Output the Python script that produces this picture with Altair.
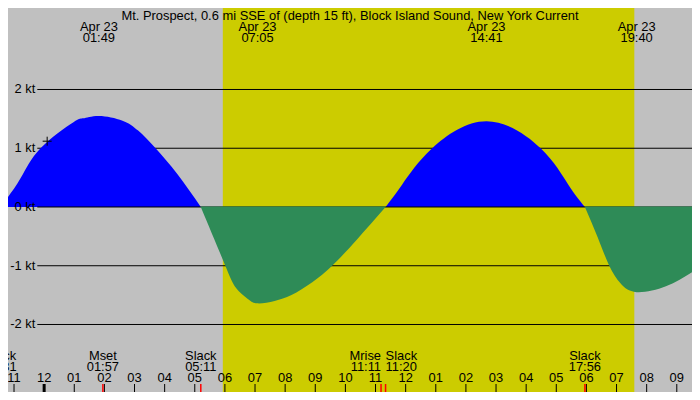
import altair as alt
import pandas as pd

# ---------------- data ----------------
TITLE = "Mt. Prospect, 0.6 mi SSE of (depth 15 ft), Block Island Sound, New York Current"

# current curve (hours after midnight Apr 23, knots), one list per half-cycle
flood1_h = [-1.45, -1.20, -0.77, -0.12, 0.96, 1.30, 1.817, 2.60, 3.12, 3.70, 4.42, 5.20]
flood1_v = [0.0, 0.17, 0.50, 1.0, 1.44, 1.51, 1.55, 1.47, 1.30, 1.0, 0.56, 0.0]
ebb1_h = [5.20, 5.99, 6.37, 6.75, 7.083, 7.65, 8.21, 8.90, 9.56, 10.37, 11.333]
ebb1_v = [0.0, -0.97, -1.38, -1.56, -1.64, -1.60, -1.50, -1.28, -1.00, -0.56, 0.0]
flood2_h = [11.333, 11.88, 12.88, 14.683, 16.48, 17.40, 17.95]
flood2_v = [0.0, 0.38, 1.0, 1.46, 1.0, 0.38, 0.0]
ebb2_h = [17.95, 18.37, 18.75, 19.13, 19.667, 20.64, 21.505]
ebb2_v = [0.0, -0.51, -0.99, -1.30, -1.45, -1.35, -1.11]

# daylight
sunrise_h = 5.93
sunset_h = 19.59

# y gridlines / labels
grid_v = [2, 1, 0, -1, -2]
grid_labels = ["2 kt", "1 kt", "0 kt", "-1 kt", "-2 kt"]

# max / min labels at the top
peak_h = [1.817, 7.083, 14.683, 19.667]
peak_date = ["Apr 23", "Apr 23", "Apr 23", "Apr 23"]
peak_time = ["01:49", "07:05", "14:41", "19:40"]

# events at the bottom
event_h = [-1.45, 1.95, 5.20, 11.183, 11.333, 17.95]
event_name = ["Slack", "Mset", "Slack", "Mrise", "Slack", "Slack"]
event_time = ["22:31", "01:57", "05:11", "11:11", "11:20", "17:56"]
event_align = ["center", "center", "center", "right", "left", "center"]

# hour ticks
hour_h = list(range(-1, 22))
hour_labels = ["11", "12", "01", "02", "03", "04", "05", "06", "07", "08", "09", "10",
               "11", "12", "01", "02", "03", "04", "05", "06", "07", "08", "09"]

# current-time marker
now_h = [0.1]
now_v = [1.12]

# ---------------- chart ----------------
W, H = 684, 384
FONT = "Liberation Sans"
FS = 12.9
xs = alt.Scale(domain=[-1.2, 21.505], nice=False, zero=False)
ys = alt.Scale(domain=[-3.149, 3.387], nice=False, zero=False)

rows = []
for seg, (hh, vv, ph) in enumerate([(flood1_h, flood1_v, "flood"), (ebb1_h, ebb1_v, "ebb"),
                                     (flood2_h, flood2_v, "flood"), (ebb2_h, ebb2_v, "ebb")]):
    for a, b in zip(hh, vv):
        rows.append({"h": a, "v": b, "seg": seg, "phase": ph})
curve = pd.DataFrame(rows)

X = lambda f: alt.X(f, scale=xs, axis=None)
Y = lambda f: alt.Y(f, scale=ys, axis=None)

day = alt.Chart(pd.DataFrame({"a": [sunrise_h], "b": [sunset_h]})).mark_rect(
    color="#cccc00").encode(x=X("a:Q"), x2="b:Q", y=alt.value(0), y2=alt.value(H))

grid_df = pd.DataFrame({"v": grid_v, "label": grid_labels})
grid = alt.Chart(grid_df).transform_filter("datum.v != 0").mark_rule(
    color="black", strokeWidth=1).encode(y=Y("v:Q"), x=alt.value(29.3), x2=alt.value(W))
zero = alt.Chart(grid_df).transform_filter("datum.v == 0").mark_rule(
    color="black", strokeWidth=1).encode(y=Y("v:Q"), x=alt.value(29.3), x2=alt.value(W))
ylab = alt.Chart(grid_df).mark_text(align="right", baseline="middle", font=FONT,
                                    fontSize=FS, color="black").encode(
    y=Y("v:Q"), x=alt.value(27.4), text="label:N")

flood = alt.Chart(curve).transform_filter("datum.phase == 'flood'").mark_area(
    color="#0000ff", interpolate="natural", clip=True).encode(
    x=X("h:Q"), y=Y("v:Q"), y2=alt.datum(0), detail="seg:N")
ebb = alt.Chart(curve).transform_filter("datum.phase == 'ebb'").mark_area(
    color="#2e8b57", interpolate="natural", clip=True).encode(
    x=X("h:Q"), y=Y("v:Q"), y2=alt.datum(0.008), detail="seg:N")

now = alt.Chart(pd.DataFrame({"h": now_h, "v": now_v})).mark_point(
    shape="M-1,0H1M0,-1V1", size=81, filled=False, color="black", strokeWidth=1,
    opacity=1).encode(x=X("h:Q"), y=Y("v:Q"))

title = alt.Chart(pd.DataFrame({"t": [TITLE]})).mark_text(
    font=FONT, fontSize=FS, color="black", align="center", baseline="alphabetic").encode(
    text="t:N", x=alt.value(W / 2), y=alt.value(12.0))

peaks = pd.DataFrame({"h": peak_h, "d": peak_date, "t": peak_time})
pk = alt.Chart(peaks).transform_calculate(lab="datum.d + '\\n' + datum.t").mark_text(
    font=FONT, fontSize=FS, color="black", baseline="alphabetic", lineBreak="\n",
    lineHeight=10.9).encode(x=X("h:Q"), y=alt.value(23.4), text="lab:N")

hours = pd.DataFrame({"h": hour_h, "label": hour_labels})
hticks = alt.Chart(hours).transform_filter("datum.h != 0").mark_rule(
    color="black", strokeWidth=1).encode(x=X("h:Q"), y=alt.value(376), y2=alt.value(H))
midnight = alt.Chart(hours).transform_filter("datum.h == 0").mark_rule(
    color="black", strokeWidth=3).encode(x=X("h:Q"), y=alt.value(376), y2=alt.value(H))
hlab = alt.Chart(hours).mark_text(font=FONT, fontSize=FS, color="black",
                                  baseline="alphabetic").encode(
    x=X("h:Q"), y=alt.value(374.4), text="label:N")

events = pd.DataFrame({"h": event_h, "name": event_name, "time": event_time,
                       "al": event_align})
eticks = alt.Chart(events).mark_rule(color="#ff0000", strokeWidth=1.5).encode(
    x=X("h:Q"), y=alt.value(376), y2=alt.value(H))
elabels = []
for al in ["center", "right", "left"]:
    elabels.append(alt.Chart(events).transform_filter(f"datum.al == '{al}'")
                   .transform_calculate(lab="datum.name + '\\n' + datum.time")
                   .mark_text(font=FONT, fontSize=FS, color="black", align=al,
                              baseline="alphabetic", lineBreak="\n", lineHeight=11.3)
                   .encode(x=X("h:Q"), y=alt.value(351.6), text="lab:N"))

chart = alt.layer(
    day, grid, flood, zero, ebb, ylab, now, title, pk,
    hticks, midnight, eticks, hlab, *elabels
).properties(
    width=W, height=H, background="#c0c0c0", padding=0,
    autosize=alt.AutoSizeParams(type="none")
).configure_view(stroke=None)

chart.save("out.html", embed_options={"renderer": "svg", "actions": False})
